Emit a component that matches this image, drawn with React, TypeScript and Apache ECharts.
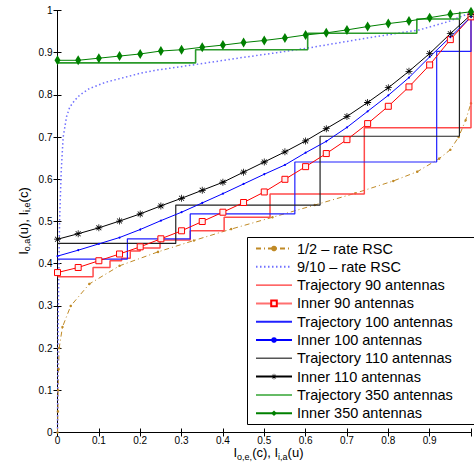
import React, { useEffect, useRef } from "react";
import * as echarts from "echarts";

// ---------- data ----------
const innerX = [0, 0.05, 0.1, 0.15, 0.2, 0.25, 0.3, 0.35, 0.4, 0.45, 0.5, 0.55, 0.6, 0.65, 0.7, 0.75, 0.8, 0.85, 0.9, 0.95, 1];
const inner90 = [0.379, 0.391, 0.407, 0.423, 0.44, 0.459, 0.478, 0.5, 0.522, 0.545, 0.57, 0.6, 0.63, 0.661, 0.694, 0.732, 0.773, 0.819, 0.871, 0.931, 0.985];
const inner100 = [0.418, 0.432, 0.447, 0.462, 0.481, 0.502, 0.522, 0.544, 0.566, 0.589, 0.612, 0.634, 0.663, 0.69, 0.723, 0.761, 0.799, 0.841, 0.89, 0.937, 0.985];
const inner110 = [0.458, 0.471, 0.485, 0.501, 0.518, 0.537, 0.555, 0.574, 0.593, 0.617, 0.641, 0.665, 0.691, 0.72, 0.749, 0.782, 0.817, 0.856, 0.898, 0.945, 0.99];
const inner350 = [0.882, 0.882, 0.887, 0.892, 0.897, 0.904, 0.907, 0.913, 0.918, 0.924, 0.929, 0.935, 0.942, 0.947, 0.954, 0.962, 0.969, 0.975, 0.983, 0.991, 0.997];

const rscHalfX = [0, 0.001, 0.0015, 0.0025, 0.004, 0.012, 0.032, 0.077, 0.15, 0.243, 0.33, 0.42, 0.52, 0.622, 0.72, 0.812, 0.87, 0.923, 0.95, 0.97, 0.987, 1.0];
const rscHalfY = [0, 0.05, 0.1, 0.15, 0.2, 0.25, 0.3, 0.352, 0.395, 0.428, 0.455, 0.482, 0.51, 0.539, 0.567, 0.596, 0.618, 0.649, 0.67, 0.7, 0.74, 0.78];

const rscNineX = [0, 0.0008, 0.002, 0.005, 0.009, 0.0137, 0.0178, 0.0218, 0.0296, 0.0415, 0.0533, 0.077, 0.1166, 0.164, 0.203, 0.235, 0.334, 0.45, 0.53, 0.605, 0.75, 0.875, 0.946, 1.0];
const rscNineY = [0, 0.15, 0.3, 0.5, 0.62, 0.7, 0.724, 0.748, 0.771, 0.787, 0.799, 0.815, 0.83, 0.842, 0.852, 0.858, 0.872, 0.889, 0.9, 0.911, 0.935, 0.954, 0.974, 0.995];

const traj90X = [0, 0.086, 0.086, 0.127, 0.127, 0.155, 0.155, 0.176, 0.176, 0.2, 0.2, 0.248, 0.248, 0.321, 0.321, 0.403, 0.403, 0.514, 0.514, 0.742, 0.742, 1.0, 1.0];
const traj90Y = [0.369, 0.369, 0.391, 0.391, 0.407, 0.407, 0.413, 0.413, 0.43, 0.43, 0.437, 0.437, 0.456, 0.456, 0.478, 0.478, 0.51, 0.51, 0.565, 0.565, 0.722, 0.722, 0.985];

const traj100X = [0, 0.169, 0.169, 0.321, 0.321, 0.574, 0.574, 0.917, 0.917, 1.0, 1.0];
const traj100Y = [0.411, 0.411, 0.459, 0.459, 0.518, 0.518, 0.641, 0.641, 0.903, 0.903, 0.985];

const traj110X = [0, 0.286, 0.286, 0.635, 0.635, 0.972, 0.972];
const traj110Y = [0.448, 0.448, 0.539, 0.539, 0.702, 0.702, 0.995];

const traj350X = [0, 0.334, 0.334, 0.605, 0.605, 0.869, 0.869, 0.973, 0.973];
const traj350Y = [0.876, 0.876, 0.907, 0.907, 0.946, 0.946, 0.98, 0.98, 0.997];

const xTickLabels = ["0", "0.1", "0.2", "0.3", "0.4", "0.5", "0.6", "0.7", "0.8", "0.9", ""];
const yTickLabels = ["0", "0.1", "0.2", "0.3", "0.4", "0.5", "0.6", "0.7", "0.8", "0.9", "1"];

const seriesNames = [
  "1/2 – rate RSC",
  "9/10 – rate RSC",
  "Trajectory 90 antennas",
  "Inner 90 antennas",
  "Trajectory 100 antennas",
  "Inner 100 antennas",
  "Trajectory 110 antennas",
  "Inner 110 antennas",
  "Trajectory 350 antennas",
  "Inner 350 antennas",
];

const zip = (xs: number[], ys: number[]) => xs.map((x, i) => [x, ys[i]]);

const FONT = "'Liberation Sans', Arial, Helvetica, sans-serif";

const asteriskPath = (() => {
  const w = 0.55;
  const L = 5;
  let d = "";
  for (const a of [0, 45, 90, 135]) {
    const r = (a * Math.PI) / 180;
    const c = Math.cos(r);
    const s = Math.sin(r);
    const pts = [
      [-L, -w],
      [L, -w],
      [L, w],
      [-L, w],
    ].map(([x, y]) => [x * c - y * s, x * s + y * c]);
    d += "M" + pts.map((p) => p[0].toFixed(2) + "," + p[1].toFixed(2)).join("L") + "Z";
  }
  return "path://" + d;
})();

const hiddenSymbol = { color: "rgba(0,0,0,0)", borderWidth: 0, opacity: 0 };

export default function App() {
  const ref = useRef<HTMLDivElement>(null);
  useEffect(() => {
    if (!ref.current) return;
    const chart = echarts.init(ref.current, undefined, { renderer: "svg" });
    const tickLabel = (arr: string[]) => (v: number) => arr[Math.round(v * 10)] ?? "";
    const richTitle = {
      m: { fontSize: 13, lineHeight: 13, fontFamily: FONT, verticalAlign: "top", fill: "#000" },
      s: { fontSize: 9, lineHeight: 9, fontFamily: FONT, padding: [6, 0, 0, 0], verticalAlign: "top", fill: "#000" },
    };
    const option: any = {
      animation: false,
      backgroundColor: "#fff",
      grid: { left: 57.5, top: 10.5, width: 422, height: 422, containLabel: false },
      xAxis: [
        {
          type: "value",
          min: 0,
          max: 1,
          interval: 0.1,
          axisLine: { show: true, lineStyle: { color: "#000", width: 1 } },
          axisTick: { show: true, inside: true, length: 4, lineStyle: { color: "#000" } },
          axisLabel: { formatter: tickLabel(xTickLabels), fontSize: 10, fontFamily: FONT, color: "#000", margin: 3 },
          splitLine: { show: false },
        },
        {
          type: "value",
          position: "top",
          min: 0,
          max: 1,
          interval: 0.1,
          axisLine: { show: true, lineStyle: { color: "#000", width: 1 } },
          axisTick: { show: true, inside: true, length: 4, lineStyle: { color: "#000" } },
          axisLabel: { show: false },
          splitLine: { show: false },
        },
      ],
      yAxis: [
        {
          type: "value",
          min: 0,
          max: 1,
          interval: 0.1,
          axisLine: { show: true, lineStyle: { color: "#000", width: 1 } },
          axisTick: { show: true, inside: true, length: 4, lineStyle: { color: "#000" } },
          axisLabel: { formatter: tickLabel(yTickLabels), fontSize: 10, fontFamily: FONT, color: "#000", margin: 5 },
          splitLine: { show: false },
        },
        {
          type: "value",
          position: "right",
          min: 0,
          max: 1,
          interval: 0.1,
          axisLine: { show: true, lineStyle: { color: "#000", width: 1 } },
          axisTick: { show: true, inside: true, length: 4, lineStyle: { color: "#000" } },
          axisLabel: { show: false },
          splitLine: { show: false },
        },
      ],
      legend: {
        orient: "vertical",
        left: 255,
        top: 241,
        padding: 0,
        itemWidth: 36,
        itemHeight: 7,
        itemGap: 3.3,
        selectedMode: false,
        z: 10,
        textStyle: { fontSize: 14.5, lineHeight: 14, fontFamily: FONT, color: "#000" },
        data: [
          { name: seriesNames[0] },
          { name: seriesNames[1], itemStyle: hiddenSymbol },
          { name: seriesNames[2], itemStyle: hiddenSymbol, lineStyle: { color: "#ff0000", width: 1 } },
          { name: seriesNames[3], lineStyle: { color: "#ff7070", width: 2 } },
          { name: seriesNames[4], itemStyle: hiddenSymbol },
          { name: seriesNames[5] },
          { name: seriesNames[6], itemStyle: hiddenSymbol, lineStyle: { color: "#555555", width: 1.5 } },
          { name: seriesNames[7] },
          { name: seriesNames[8], itemStyle: hiddenSymbol, lineStyle: { color: "#66bb66", width: 2 } },
          { name: seriesNames[9] },
        ],
      },
      graphic: [
        {
          type: "rect",
          z: 5,
          shape: { x: 247.5, y: 237.5, width: 260, height: 187 },
          style: { fill: "#fff", stroke: "#000", lineWidth: 1 },
        },
        {
          type: "text",
          x: 23,
          y: 221,
          rotation: Math.PI / 2,
          style: {
            text: "{m|I}{s|o,a}{m|(u), I}{s|i,e}{m|(c)}",
            rich: richTitle,
            align: "center",
            verticalAlign: "middle",
          },
        },
        {
          type: "text",
          x: 268.5,
          y: 446,
          style: {
            text: "{m|I}{s|o,e,}{m|(c), I}{s|i,a}{m|(u)}",
            rich: richTitle,
            align: "center",
            verticalAlign: "top",
          },
        },
      ],
      series: [
        {
          name: seriesNames[0],
          type: "line",
          data: zip(rscHalfX, rscHalfY),
          symbol: "circle",
          symbolSize: 2.5,
          showAllSymbol: true,
          itemStyle: { color: "#c08a26" },
          lineStyle: { color: "#c08a26", width: 1, type: [5, 3, 1, 3] },
          z: 2,
        },
        {
          name: seriesNames[1],
          type: "line",
          data: zip(rscNineX, rscNineY),
          symbol: "none",
          itemStyle: { color: "#7070ff" },
          lineStyle: { color: "#7070ff", width: 1.5, type: [1.5, 2.5] },
          z: 2,
        },
        {
          name: seriesNames[2],
          type: "line",
          data: zip(traj90X, traj90Y),
          symbol: "none",
          itemStyle: { color: "#ff0000" },
          lineStyle: { color: "#ff4a4a", width: 1.5 },
          z: 3,
        },
        {
          name: seriesNames[3],
          type: "line",
          data: zip(innerX, inner90),
          symbol: "rect",
          symbolSize: 6,
          showAllSymbol: true,
          itemStyle: { color: "#fff0f0", borderColor: "#ff0000", borderWidth: 1 },
          lineStyle: { color: "#ff0000", width: 1 },
          z: 4,
        },
        {
          name: seriesNames[4],
          type: "line",
          data: zip(traj100X, traj100Y),
          symbol: "none",
          itemStyle: { color: "#2020ff" },
          lineStyle: { color: "#2020ff", width: 1.2 },
          z: 3,
        },
        {
          name: seriesNames[5],
          type: "line",
          data: zip(innerX, inner100),
          symbol: "circle",
          symbolSize: 2,
          showAllSymbol: true,
          itemStyle: { color: "#0000ff" },
          lineStyle: { color: "#0000ff", width: 1 },
          z: 4,
        },
        {
          name: seriesNames[6],
          type: "line",
          data: zip(traj110X, traj110Y),
          symbol: "none",
          itemStyle: { color: "#222222" },
          lineStyle: { color: "#222222", width: 1.2 },
          z: 3,
        },
        {
          name: seriesNames[7],
          type: "line",
          data: zip(innerX, inner110),
          symbol: asteriskPath,
          symbolSize: 7,
          showAllSymbol: true,
          itemStyle: { color: "#000000" },
          lineStyle: { color: "#000000", width: 1 },
          z: 4,
        },
        {
          name: seriesNames[8],
          type: "line",
          data: zip(traj350X, traj350Y),
          symbol: "none",
          itemStyle: { color: "#2a9a2a" },
          lineStyle: { color: "#2a9a2a", width: 1.6 },
          z: 3,
        },
        {
          name: seriesNames[9],
          type: "line",
          data: zip(innerX, inner350),
          symbol: "diamond",
          symbolSize: [6, 10],
          showAllSymbol: true,
          itemStyle: { color: "#008000" },
          lineStyle: { color: "#008000", width: 1 },
          z: 4,
        },
      ],
    };
    chart.setOption(option);
    return () => chart.dispose();
  }, []);
  return <div ref={ref} style={{ width: 474, height: 465, position: "absolute", left: 0, top: 0 }} />;
}
